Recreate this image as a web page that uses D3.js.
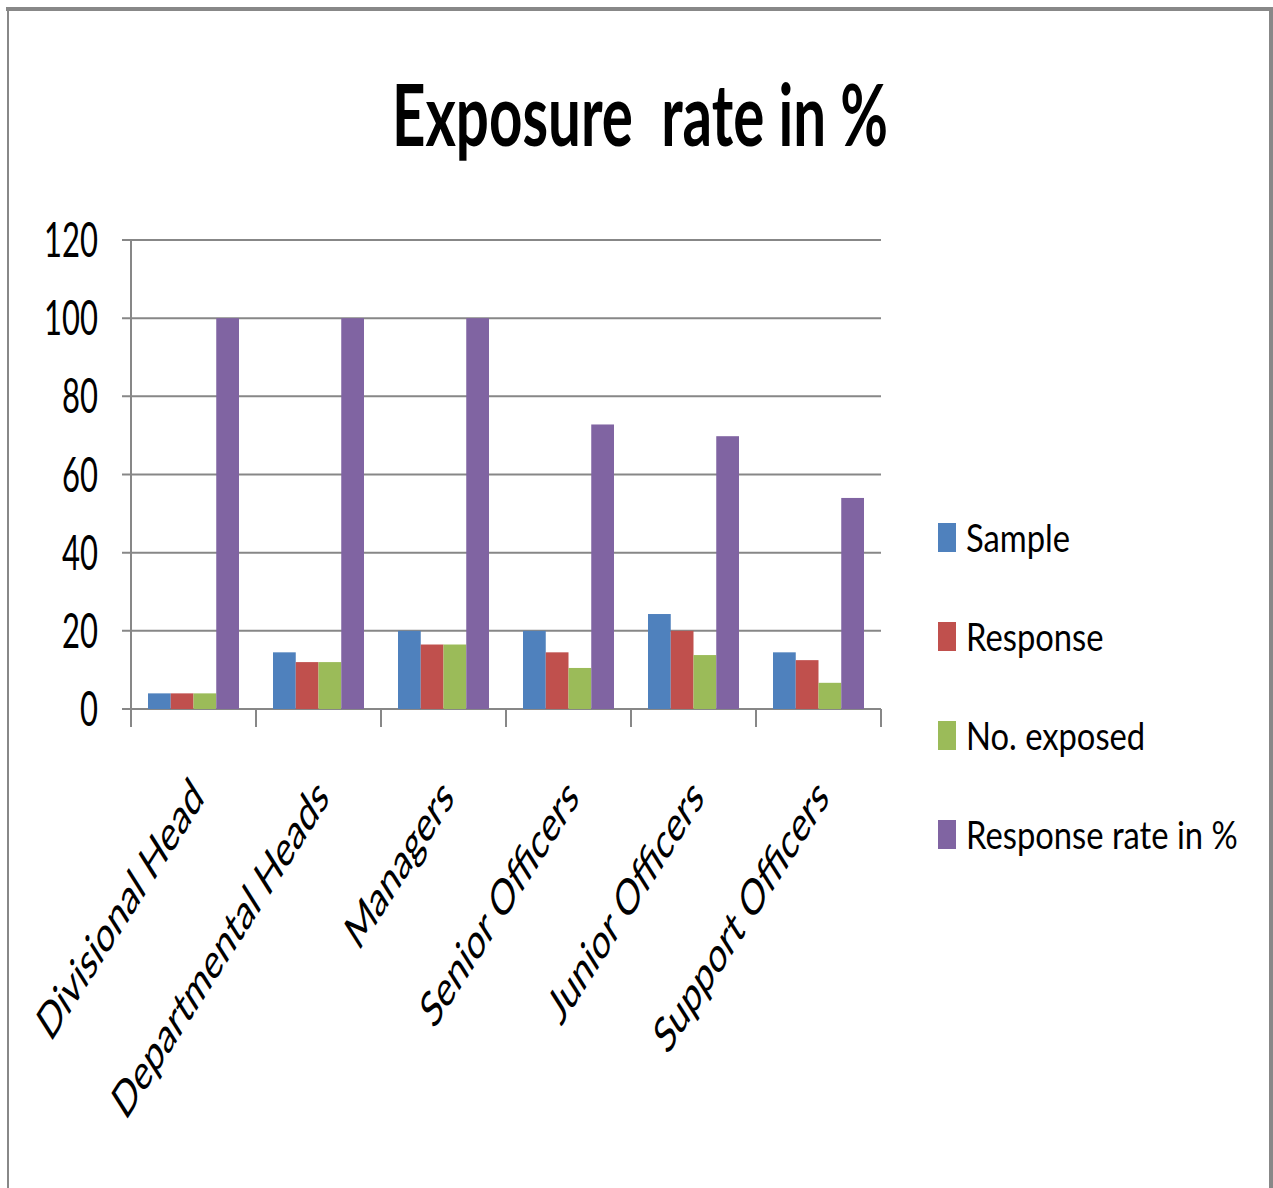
<!DOCTYPE html>
<html>
<head>
<meta charset="utf-8">
<script src="https://cdn.jsdelivr.net/npm/d3@7"></script>
<style>
  body { margin: 0; background: #fff; }
  text { font-family: Lato, "Open Sans", sans-serif; fill: #000; }
</style>
</head>
<body>
<svg id="chart" width="1273" height="1188"></svg>
<script>
var categories = ["Divisional Head", "Departmental Heads", "Managers", "Senior Officers", "Junior Officers", "Support Officers"]
var seriesNames = ["Sample", "Response", "No. exposed", "Response rate in %"]
var sample = [4, 14.5, 20, 20, 24.3, 14.5]
var response = [4, 12, 16.5, 14.5, 20, 12.5]
var exposed = [4, 12, 16.5, 10.5, 13.8, 6.7]
var responseRate = [100, 100, 100, 72.8, 69.8, 54]
var yTicks = [0, 20, 40, 60, 80, 100, 120]

var colors = ["#4f81bd", "#c0504d", "#9bbb59", "#8064a2"]
var values = [sample, response, exposed, responseRate]
var sy = 1.57   // picture is stretched vertically

var svg = d3.select("#chart")

// frame
svg.append("line").attr("x1", 6).attr("x2", 1273).attr("y1", 9).attr("y2", 9)
    .attr("stroke", "#888").attr("stroke-width", 4)
svg.append("line").attr("x1", 8).attr("x2", 8).attr("y1", 9).attr("y2", 1188)
    .attr("stroke", "#888").attr("stroke-width", 2)
svg.append("line").attr("x1", 1271).attr("x2", 1271).attr("y1", 9).attr("y2", 1188)
    .attr("stroke", "#888").attr("stroke-width", 4)

var pLeft = 131, pRight = 881, pTop = 240, pBottom = 709

var x0 = d3.scaleBand().domain(categories).range([pLeft, pRight]).paddingInner(0.272).paddingOuter(0.136)
var x1 = d3.scaleBand().domain(seriesNames).range([0, x0.bandwidth()])
var y = d3.scaleLinear().domain([0, 120]).range([pBottom, pTop])

// gridlines + y ticks
var g = svg.append("g")
g.selectAll("line.grid").data(yTicks).enter().append("line")
    .attr("x1", pLeft - 9).attr("x2", pRight)
    .attr("y1", function(d) { return y(d) }).attr("y2", function(d) { return y(d) })
    .attr("stroke", "#878787").attr("stroke-width", 2)

g.selectAll("text.ytick").data(yTicks).enter().append("text")
    .attr("text-anchor", "end")
    .attr("transform", function(d) { return "translate(98," + (y(d) + 17) + ") scale(1," + sy + ")" })
    .style("font-size", "31px")
    .text(function(d) { return d })

// bars
var groups = svg.selectAll("g.cat").data(categories).enter().append("g")
    .attr("transform", function(d) { return "translate(" + x0(d) + ",0)" })
groups.selectAll("rect").data(function(d, i) {
        return seriesNames.map(function(s, j) { return {s: s, v: values[j][i], c: colors[j]} })
    }).enter().append("rect")
    .attr("x", function(d) { return x1(d.s) })
    .attr("width", x1.bandwidth())
    .attr("y", function(d) { return y(d.v) })
    .attr("height", function(d) { return pBottom - y(d.v) })
    .attr("fill", function(d) { return d.c })

// axes
svg.append("line").attr("x1", pLeft).attr("x2", pLeft).attr("y1", pTop).attr("y2", pBottom + 18)
    .attr("stroke", "#878787").attr("stroke-width", 2)
var bounds = categories.map(function(c) { return x0(c) - x0.step() * x0.paddingInner() / 2 })
bounds.push(pRight)
svg.selectAll("line.xt").data(bounds).enter().append("line")
    .attr("x1", function(d) { return d }).attr("x2", function(d) { return d })
    .attr("y1", pBottom).attr("y2", pBottom + 18)
    .attr("stroke", "#878787").attr("stroke-width", 2)

// x labels
svg.selectAll("text.xl").data(categories).enter().append("text")
    .attr("text-anchor", "end")
    .attr("transform", function(d) {
        var cx = x0(d) + x0.bandwidth() / 2
        return "translate(" + (cx + 12) + ",800) scale(1.03," + (1.03 * sy) + ") rotate(-45)"
    })
    .style("font-size", "31px")
    .text(function(d) { return d })

// title
svg.append("text")
    .attr("text-anchor", "middle")
    .attr("transform", "translate(640,146) scale(1.06," + sy + ")")
    .style("font-size", "55px").style("font-weight", "bold")
    .style("white-space", "pre")
    .text("Exposure  rate in %")

// legend
var leg = svg.selectAll("g.leg").data(seriesNames).enter().append("g")
    .attr("transform", function(d, i) { return "translate(938," + (537 + i * 99) + ")" })
leg.append("rect").attr("x", 0).attr("y", -14).attr("width", 18).attr("height", 29)
    .attr("fill", function(d, i) { return colors[i] })
leg.append("text")
    .attr("transform", "translate(28,15) scale(1.31," + sy + ")")
    .style("font-size", "25px")
    .text(function(d) { return d })
</script>
</body>
</html>
